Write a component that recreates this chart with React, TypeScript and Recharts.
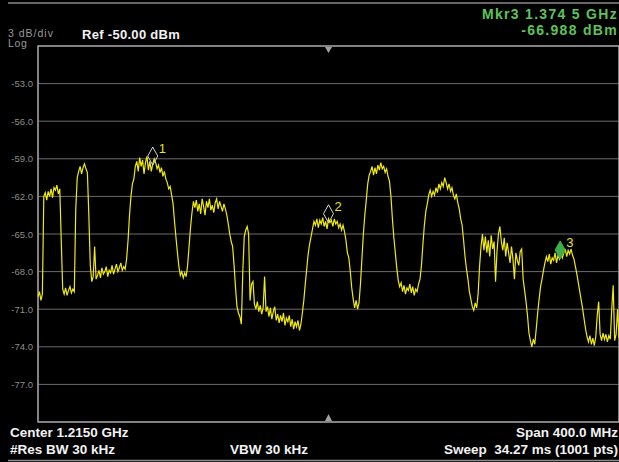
import React from 'react';
import { LineChart, Line, XAxis, YAxis, CartesianGrid, ReferenceDot, ReferenceArea } from 'recharts';

// Sweep: 1.015 GHz .. 1.415 GHz (Center 1.2150 GHz, Span 400 MHz), read at 1 MHz steps
const sweepStartMHz = 1015;
const sweepStepMHz = 1;
const traceLevels = [
  -70.0, -69.6, -70.3, -69.8, -62.0, -61.7, -62.3, -61.6, -62.0, -61.4,
  -62.1, -61.3, -61.5, -61.1, -61.8, -61.4, -65.5, -69.4, -69.8, -69.3,
  -69.9, -69.5, -69.2, -69.7, -69.4, -69.6, -63.0, -60.5, -60.0, -59.6,
  -60.2, -59.7, -59.4, -59.8, -60.1, -63.5, -67.5, -68.8, -68.4, -66.0,
  -68.6, -68.3, -67.9, -68.5, -67.7, -68.2, -68.0, -67.6, -68.4, -67.9,
  -68.1, -67.5, -68.2, -67.8, -67.4, -68.0, -67.7, -67.3, -67.9, -67.6,
  -67.8, -67.0, -65.5, -63.5, -62.0, -61.0, -60.6, -59.6, -59.2, -60.0,
  -58.9, -59.6, -59.1, -60.2, -59.3, -58.8, -59.9, -59.2, -60.0, -59.4,
  -59.0, -59.3, -59.8, -59.5, -60.1, -59.7, -60.4, -60.0, -60.6, -60.9,
  -61.4, -61.2, -61.9, -62.6, -64.0, -65.3, -66.5, -67.6, -68.3, -68.0,
  -68.5, -68.1, -68.4, -67.5, -66.0, -64.5, -63.3, -62.4, -62.9, -62.3,
  -63.2, -62.6, -63.4, -62.2, -62.8, -63.5, -62.4, -62.9, -62.2, -63.1,
  -62.7, -63.3, -62.5, -62.2, -63.0, -62.4, -62.8, -63.2, -62.6, -63.0,
  -63.5, -64.2, -65.0, -65.6, -66.0, -67.5, -69.3, -70.8, -71.3, -71.6,
  -72.2, -68.0, -65.2, -64.7, -64.4, -65.0, -70.3, -69.0, -68.8, -70.6,
  -71.0, -70.4, -71.2, -70.7, -71.4, -70.9, -68.4, -71.2, -70.8, -71.6,
  -70.9, -71.8, -71.2, -70.8, -71.9, -71.4, -72.1, -71.5, -72.0, -71.3,
  -72.3, -71.7, -72.0, -71.5, -72.4, -71.8, -72.6, -72.0, -72.4, -71.9,
  -72.7, -72.2, -71.3, -70.3, -69.0, -67.8, -66.6, -65.8, -65.2, -64.6,
  -64.0, -64.3, -63.8, -64.5, -63.9, -64.2, -63.7, -64.4, -64.0, -64.6,
  -63.8, -64.1, -63.9, -64.4, -63.8, -64.2, -64.0, -64.5, -64.2, -64.7,
  -64.3, -64.8, -65.5, -66.5, -66.9, -68.0, -69.3, -70.2, -70.9, -70.3,
  -71.0, -70.5, -69.0, -67.0, -65.0, -63.5, -62.3, -61.0, -60.3, -60.0,
  -59.6, -60.3, -59.7, -60.2, -59.5, -59.9, -59.3, -59.8, -59.6, -60.1,
  -59.8, -60.4, -60.8, -62.0, -63.8, -65.3, -66.5, -67.7, -68.7, -69.2,
  -68.9, -69.6, -69.1, -69.8, -69.3, -69.5, -69.0, -69.7, -69.2, -69.9,
  -69.4, -69.6, -69.0, -68.6, -67.5, -65.8, -64.3, -63.2, -62.6, -61.9,
  -61.5, -62.0, -61.6, -61.9, -61.3, -61.7, -61.0, -61.4, -60.9, -61.2,
  -60.5, -60.9, -61.4, -61.0, -61.6, -61.3, -61.9, -62.2, -61.8, -62.5,
  -63.0, -63.8, -64.3, -65.5, -66.8, -67.8, -68.6, -69.6, -70.2, -70.8,
  -71.1, -70.5, -70.9, -69.8, -67.6, -66.0, -65.0, -66.3, -65.2, -66.5,
  -65.5, -66.8, -65.1, -66.2, -65.6, -68.8, -66.4, -65.0, -64.4, -65.6,
  -66.3, -65.3, -66.8, -65.7, -66.5, -67.3, -66.0, -67.0, -68.6, -66.5,
  -67.1, -67.5, -66.4, -66.2, -68.6, -69.5, -70.4, -71.5, -72.9, -73.5,
  -74.0, -73.4, -73.8, -72.6, -71.3, -70.2, -69.2, -68.6, -67.9, -67.3,
  -66.8, -67.2, -66.6, -67.4, -66.9, -67.1, -66.5, -67.3, -66.7, -67.0,
  -66.4, -66.9, -66.5, -66.2, -66.8, -66.3, -66.6, -66.2, -66.7, -67.0,
  -67.6, -68.2, -68.9, -69.6, -70.3, -71.0, -71.8, -72.6, -73.2, -73.6,
  -73.1, -73.8, -73.3, -73.9, -73.2, -71.5, -70.4, -73.0, -73.5, -72.9,
  -73.4, -73.0, -73.6, -73.1, -73.4, -71.0, -69.1, -73.5, -73.0, -71.0,
  -73.3,
];

const xGridMHz = [1015, 1055, 1095, 1135, 1175, 1215, 1255, 1295, 1335, 1375, 1415];
const yGridDbm = [-50, -53, -56, -59, -62, -65, -68, -71, -74, -77, -80];
const yHiddenLabels = [-50, -80];

const markerIds = ['1', '2', '3'];
const markerFreqMHz = [1094, 1215, 1374.5];
const markerLevels = [-59.5, -64.1, -66.988];
const activeMarker = '3';

const centerFreqMHz = 1215;

const data = traceLevels.map((v, i) => ({ f: sweepStartMHz + i * sweepStepMHz, v }));

const FONT = '"Liberation Sans", Arial, sans-serif';

const YTick = (props: any) => {
  const { x, y, payload } = props;
  if (yHiddenLabels.includes(payload.value)) return <g />;
  return (
    <text x={x} y={y} dy={3.5} textAnchor="end" fill="#8c8c8c" fontSize={9.5} fontFamily={FONT}>
      {Number(payload.value).toFixed(1)}
    </text>
  );
};

const makeMarkerShape = (id: string) => (props: any) => {
  const { cx, cy } = props;
  const active = id === activeMarker;
  const pts = `${cx},${cy - 18} ${cx + 5},${cy - 9} ${cx},${cy} ${cx - 5},${cy - 9}`;
  return (
    <g>
      {active && <rect x={cx + 5} y={cy - 24} width={11} height={14} fill="#000" />}
      <polygon
        points={pts}
        fill={active ? '#3fae4a' : 'none'}
        stroke={active ? '#3fae4a' : '#d8d8d8'}
        strokeWidth={1}
      />
      <text x={cx + 6} y={cy - 12} fill="#e6e22a" fontSize={13} fontFamily={FONT}>
        {id}
      </text>
    </g>
  );
};

const downTri = (props: any) => {
  const { cx, cy } = props;
  return <polygon points={`${cx - 3.5},${cy + 1} ${cx + 3.5},${cy + 1} ${cx},${cy + 7}`} fill="#a0a0a0" />;
};
const upTri = (props: any) => {
  const { cx, cy } = props;
  return <polygon points={`${cx - 3.5},${cy - 1} ${cx + 3.5},${cy - 1} ${cx},${cy - 8}`} fill="#a0a0a0" />;
};

export default function App() {
  return (
    <div style={{ position: 'fixed', left: 0, top: 0, width: 619, height: 462, background: '#000', overflow: 'hidden' }}>
      <LineChart width={619} height={462} data={data} margin={{ top: 46, right: 0, bottom: 40, left: 0 }}>
        <CartesianGrid stroke="#6c6c6c" strokeWidth={1} />
        <XAxis
          dataKey="f"
          type="number"
          domain={[1015, 1415]}
          ticks={xGridMHz}
          tick={false}
          tickLine={false}
          axisLine={false}
          height={0}
        />
        <YAxis
          type="number"
          domain={[-80, -50]}
          ticks={yGridDbm}
          interval={0}
          width={38}
          axisLine={false}
          tickLine={false}
          tickSize={3}
          tickMargin={2}
          tick={<YTick />}
        />
        <ReferenceArea x1={1015} x2={1415} y1={-80} y2={-50} fill="none" stroke="#9c9c9c" strokeWidth={1.5} ifOverflow="visible" />
        <Line type="linear" dataKey="v" stroke="#f0ea10" strokeWidth={1.2} dot={false} isAnimationActive={false} />
        <ReferenceDot x={centerFreqMHz} y={-50} r={0} shape={downTri} ifOverflow="visible" />
        <ReferenceDot x={centerFreqMHz} y={-80} r={0} shape={upTri} ifOverflow="visible" />
        {markerIds.map((id, k) => (
          <ReferenceDot
            key={id}
            x={markerFreqMHz[k]}
            y={markerLevels[k]}
            r={0}
            shape={makeMarkerShape(id)}
            ifOverflow="visible"
          />
        ))}
      </LineChart>
      <svg width={619} height={462} style={{ position: 'absolute', left: 0, top: 0, pointerEvents: 'none' }}>
        <line x1={8} y1={3} x2={619} y2={3} stroke="#8a8a8a" strokeWidth={1.5} />
        <line x1={8} y1={460.5} x2={619} y2={460.5} stroke="#8a8a8a" strokeWidth={1.5} />
        <text x={8} y={36.5} fill="#9a9a9a" fontSize={10.5} letterSpacing={1} fontFamily={FONT}>3 dB/div</text>
        <text x={8} y={47} fill="#9a9a9a" fontSize={10.5} letterSpacing={0.6} fontFamily={FONT}>Log</text>
        <text x={82} y={39} fill="#f2f2f2" fontSize={13} fontWeight="bold" letterSpacing={0.3} fontFamily={FONT}>Ref -50.00 dBm</text>
        <text x={618} y={19} textAnchor="end" fill="#5cc35c" fontSize={14} fontWeight="bold" letterSpacing={1.3} fontFamily={FONT}>Mkr3 1.374 5 GHz</text>
        <text x={618} y={35} textAnchor="end" fill="#5cc35c" fontSize={14} fontWeight="bold" letterSpacing={1.3} fontFamily={FONT}>-66.988 dBm</text>
        <text x={10} y={437} fill="#f2f2f2" fontSize={13.5} fontWeight="bold" fontFamily={FONT}>Center 1.2150 GHz</text>
        <text x={10} y={454} fill="#f2f2f2" fontSize={13.5} fontWeight="bold" fontFamily={FONT}>#Res BW 30 kHz</text>
        <text x={230} y={454} fill="#f2f2f2" fontSize={13.5} fontWeight="bold" fontFamily={FONT}>VBW 30 kHz</text>
        <text x={618} y={437} textAnchor="end" fill="#f2f2f2" fontSize={13.5} fontWeight="bold" fontFamily={FONT}>Span 400.0 MHz</text>
        <text x={618} y={454} textAnchor="end" fill="#f2f2f2" fontSize={13.5} fontWeight="bold" fontFamily={FONT} style={{ whiteSpace: 'pre' }}>Sweep  34.27 ms (1001 pts)</text>
      </svg>
    </div>
  );
}
